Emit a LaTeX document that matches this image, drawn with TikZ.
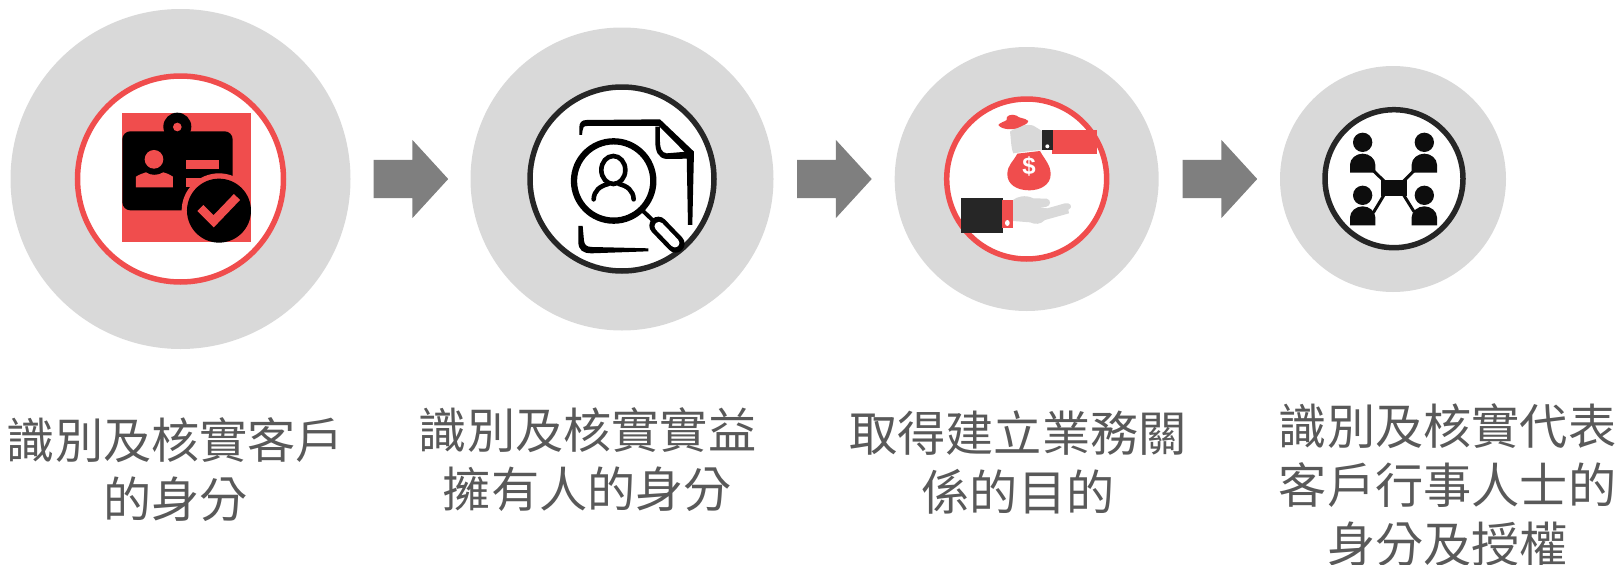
\documentclass[tikz,border=0pt]{standalone}
\usepackage{fontspec}
\usetikzlibrary{shapes.arrows}
\newfontfamily\cjk{Noto Sans CJK TC}
\definecolor{disc}{HTML}{D9D9D9}
\definecolor{redc}{HTML}{F04D4D}
\definecolor{ringdark}{HTML}{262626}
\definecolor{arrowc}{HTML}{7F7F7F}
\definecolor{textc}{HTML}{595959}
\definecolor{nearblack}{HTML}{0D0D0D}
\tikzset{
  disc/.style={circle,fill=disc,inner sep=0pt,minimum size=#1},
  ringnode/.style={circle,fill=white,inner sep=0pt,minimum size=#1,line width=5.5pt},
  flowarrow/.style={single arrow,fill=arrowc,draw=none,inner xsep=0pt,inner ysep=19pt,minimum height=74.5pt,
    single arrow head extend=20pt,single arrow tip angle=95,anchor=west},
  label/.style={font=\cjk\fontsize{48.2}{59}\selectfont,text=textc,align=center,inner sep=0pt},
  icon/.style={x=0.3333pt,y=-0.3333pt,shift={#1}}
}
\begin{document}
\begin{tikzpicture}[x=1pt,y=-1pt]
\useasboundingbox (0,0) rectangle (1618,565);
% discs
\node[disc=340pt] (d1) at (180.5,179) {};
\node[disc=303pt] (d2) at (622,179) {};
\node[disc=264pt] (d3) at (1026.7,179) {};
\node[disc=226pt] (d4) at (1393,179) {};
% rings
\node[ringnode=206pt,draw=redc] (r1) at (d1) {};
\node[ringnode=184pt,draw=ringdark] (r2) at (d2) {};
\node[ringnode=160pt,draw=redc] (r3) at (d3) {};
\node[ringnode=138pt,draw=ringdark] (r4) at (1394,178.7) {};
% arrows
\node[flowarrow] (a1) at (373.5,179) {};
\node[flowarrow] (a2) at (797,179) {};
\node[flowarrow] (a3) at (1182.5,179) {};
% icon 1
\begin{scope}[icon={(60pt,-60pt)}]
\fill[redc] (186,159) rectangle (573,546);
\fill[black] (352,200) circle (42);
\fill[black,rounded corners=8pt] (187,214) rectangle (518,451);
\fill[redc] (352,201) circle (13);
\fill[redc] (282,298) circle (28);
\fill[redc] (228,382) -- (228,350) .. controls (240,342) and (250,340) .. (258,337) .. controls (270,347) and (295,347) .. (310,337) .. controls (320,340) and (330,343) .. (339,350) -- (339,382) -- cycle;
\fill[redc] (378,299) rectangle (476,326);
\fill[redc] (378,355) rectangle (476,382);
\begin{scope}
\clip (186,159) rectangle (573,546);
\fill[redc] (477,452) circle (112);
\end{scope}
\fill[black] (477,452) circle (96);
\draw[redc,line width=8.6pt] (421,444) -- (461,484) -- (531,411);
\end{scope}
% icon 2
\begin{scope}[icon={(510pt,-70pt)}]
\fill[black] (208,195) -- (208,172) .. controls (208,158) and (215,150) .. (230,150) -- (450,148) -- (552,245) -- (547,465) -- (534,465) -- (530,252) -- (447,168) -- (232,168) .. controls (222,168) and (218,172) .. (218,180) -- (216,195) -- cycle;
\fill[black] (436,170) -- (436,215) .. controls (436,245) and (445,265) .. (470,267) -- (535,266) -- (530,245) -- (470,250) .. controls (455,248) and (450,235) .. (450,215) -- (450,170) -- cycle;
\fill[black] (205,468) -- (218,468) -- (222,512) .. controls (224,526) and (230,530) .. (245,531) -- (415,535) -- (415,544) -- (245,550) .. controls (218,550) and (205,540) .. (205,515) -- cycle;
\draw[black,line width=6.3pt] (311,333) circle (119);
\draw[black,line width=4pt] (398,422) -- (440,462);
\draw[black,line width=18pt,line cap=round] (445,467) -- (497,521);
\draw[white,line width=9pt,line cap=round] (447,469) -- (495,519);
\draw[black,line width=4.6pt] (310,300) ellipse (36 and 42);
\draw[black,line width=4.6pt,line cap=round] (251,388) .. controls (252,362) and (270,348) .. (295,342);
\draw[black,line width=4.6pt,line cap=round] (371,388) .. controls (370,362) and (352,348) .. (327,342);
\end{scope}
% icon 3
\begin{scope}[icon={(930pt,-85pt)}]
\fill[redc] (366,135) rectangle (501,207);
\fill[ringdark] (336,135) rectangle (369,195);
\fill[white] (352,184) circle (6);
\fill[disc] (336,138) -- (336,195) -- (300,198) -- (250,205) .. controls (243,190) and (243,160) .. (240,140) .. controls (260,125) and (290,115) .. (310,122) -- cycle;
\fill[redc] (205,120) .. controls (210,112) and (225,110) .. (230,105) .. controls (225,92) and (245,85) .. (260,92) .. controls (265,100) and (285,98) .. (295,108) .. controls (295,118) and (275,122) .. (265,128) .. controls (250,135) and (215,135) .. (205,120) -- cycle;
\fill[redc] (262,206) -- (330,198) .. controls (345,225) and (362,240) .. (362,268) .. controls (362,300) and (330,316) .. (298,316) .. controls (260,316) and (232,298) .. (232,268) .. controls (232,240) and (250,230) .. (262,206) -- cycle;
\node[font=\fontspec{Liberation Sans}\bfseries\fontsize{24}{24}\selectfont,text=white,inner sep=0pt] (dollar) at (297,245) {\$};
\fill[disc] (249,345) .. controls (262,335) and (285,328) .. (310,340) -- (350,341) .. controls (365,345) and (362,362) .. (350,365) -- (330,368) -- (352,370) -- (405,355) .. controls (420,352) and (432,365) .. (415,374) -- (417,385) -- (345,405) .. controls (330,420) and (315,418) .. (300,412) -- (249,408) -- cycle;
\fill[ringdark] (93,339) rectangle (219,444);
\fill[redc] (216,345) rectangle (249,429);
\fill[white] (232,414) ellipse (7 and 9);
\end{scope}
% icon 4
\begin{scope}[icon={(1310pt,-100pt)}]
\draw[nearblack,line width=3pt] (190,212) -- (222,243) (312,212) -- (281,243) (190,338) -- (222,285) (312,335) -- (281,285);
\fill[nearblack] (214,240) rectangle (290,288);
\foreach \hx/\hy/\bt in {158/127/218,343/127/218,158/286/376,343/286/376}{
  \fill[nearblack] (\hx,\hy) circle (29);
  \fill[nearblack] (\hx-38,\bt) -- (\hx-38,\bt-24) .. controls (\hx-38,\bt-42) and (\hx-20,\bt-57) .. (\hx,\bt-57) .. controls (\hx+20,\bt-57) and (\hx+38,\bt-42) .. (\hx+38,\bt-24) -- (\hx+38,\bt) -- cycle;
}
\end{scope}
% labels
\node[label] (t1) at (175.5,470) {識別及核實客戶\\的身分};
\node[label] (t2) at (587.5,459.5) {識別及核實實益\\擁有人的身分};
\node[label] (t3) at (1018,462) {取得建立業務關\\係的目的};
\node[label] (t4) at (1447.5,485) {識別及核實代表\\客戶行事人士的\\身分及授權};
\end{tikzpicture}
\end{document}
